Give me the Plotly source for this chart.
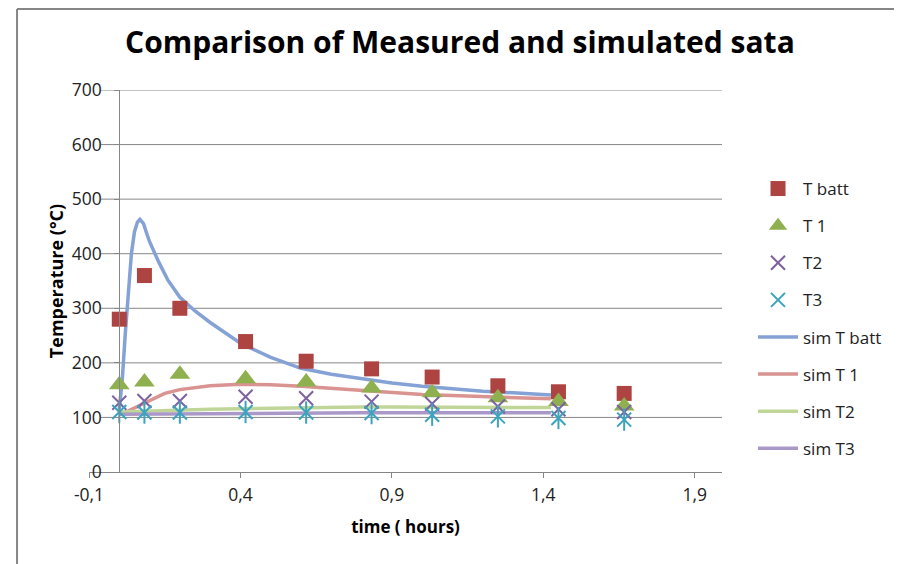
import plotly.graph_objects as go

# measured data (hours, degC)
t_meas = [0, 0.083, 0.2, 0.417, 0.617, 0.833, 1.033, 1.25, 1.45, 1.667]
T_batt = [280, 360, 300, 239, 203, 189, 174, 158, 147, 144]
T_1 = [160, 165, 179, 171, 165, 154, 145, 136, 129, 121]
T_2 = [127, 130, 130, 138, 135, 129, 125, 120, 115, 110]
T_3 = [110, 109, 109, 110, 109, 108, 105, 102, 99, 96]

# simulated curves
t_sim_batt = [0, 0.01, 0.02, 0.03, 0.04, 0.05, 0.06, 0.068, 0.08, 0.09, 0.1, 0.13, 0.16,
              0.2, 0.25, 0.3, 0.4, 0.5, 0.6, 0.7, 0.8, 0.9, 1.0, 1.1, 1.2, 1.3, 1.425]
sim_T_batt = [115, 170, 255, 335, 400, 440, 458, 463, 455, 438, 422, 385, 352,
              320, 295, 274, 236, 210, 190, 179, 171, 163, 157, 152, 148, 145, 141]

t_sim_1 = [0.01, 0.03, 0.06, 0.09, 0.12, 0.15, 0.2, 0.25, 0.3, 0.4, 0.5, 0.6, 0.7,
           0.8, 0.9, 1.0, 1.1, 1.2, 1.3, 1.425]
sim_T_1 = [108, 112, 120, 128, 136, 144, 151, 155, 158, 161, 160, 157, 153,
           149, 146, 142, 140, 138, 136, 134]

t_sim = [0, 0.1, 0.2, 0.3, 0.4, 0.5, 0.6, 0.7, 0.8, 0.9, 1.0, 1.1, 1.2, 1.3, 1.425]
sim_T_2 = [110, 112, 113, 115, 116, 117, 118, 119, 119, 119, 119, 119, 119, 118, 118]
sim_T_3 = [106, 106.5, 107, 107, 107.5, 108, 108, 108, 108.5, 108.5, 108.5, 108.5, 108.5, 108.5, 108.5]

y_ticks = [0, 100, 200, 300, 400, 500, 600, 700]
x_ticks = [-0.1, 0.4, 0.9, 1.4, 1.9]
x_ticklabels = ["-0,1", "0,4", "0,9", "1,4", "1,9"]

FONT = "Open Sans"
GRID = "#868686"

fig = go.Figure()

# lines first so markers sit on top
sims = [
    (t_sim_batt, sim_T_batt, "sim T batt", "#84A2D6", 5),
    (t_sim_1, sim_T_1, "sim T 1", "#D99391", 6),
    (t_sim, sim_T_2, "sim T2", "#C0D698", 7),
    (t_sim, sim_T_3, "sim T3", "#AA99C8", 8),
]
for x, y, name, col, rank in sims:
    fig.add_trace(go.Scatter(x=x, y=y, mode="lines", name=name,
                             line=dict(color=col, width=3.5),
                             legendrank=rank, legendgroup=name))

fig.add_trace(go.Scatter(x=t_meas, y=T_batt, mode="markers", name="T batt",
                         marker=dict(symbol="square", size=15, color="#AE4441"),
                         legendrank=1, legendgroup="T batt"))
fig.add_trace(go.Scatter(x=t_meas, y=T_1, mode="markers", name="T 1",
                         marker=dict(symbol="triangle-up", size=18, color="#8FB04E"),
                         legendrank=2, legendgroup="T 1"))
fig.add_trace(go.Scatter(x=t_meas, y=T_2, mode="markers", name="T2",
                         marker=dict(symbol="x-thin-open", size=14, color="#7E61A1",
                                     line=dict(width=2, color="#7E61A1")),
                         legendrank=3, legendgroup="T2"))
fig.add_trace(go.Scatter(x=t_meas, y=T_3, mode="markers", name="T3",
                         marker=dict(symbol="x-thin-open", size=14, color="#3BA3BD",
                                     line=dict(width=2, color="#3BA3BD")),
                         legendrank=4, legendgroup="T3"))
# vertical stroke of the star marker
fig.add_trace(go.Scatter(x=t_meas, y=T_3, mode="markers", showlegend=False,
                         marker=dict(symbol="line-ns-open", size=16, color="#3BA3BD",
                                     line=dict(width=2, color="#3BA3BD")),
                         legendgroup="T3", hoverinfo="skip"))

# horizontal gridlines (stop short of the tick labels, like excel)
for v in y_ticks[1:]:
    fig.add_shape(type="line", xref="x", yref="y", x0=-0.06, x1=1.99, y0=v, y1=v,
                  line=dict(color=GRID, width=1), layer="below")

# chart border (top and left edges visible)
fig.add_shape(type="line", xref="paper", yref="paper", x0=-0.1137, x1=-0.1137,
              y0=-0.5, y1=1.212, line=dict(color=GRID, width=2))
fig.add_shape(type="line", xref="paper", yref="paper", x0=-0.1137, x1=1.5,
              y0=1.212, y1=1.212, line=dict(color=GRID, width=2))

fig.update_layout(
    width=902, height=564,
    margin=dict(l=81, r=188, t=82, b=100),
    paper_bgcolor="white", plot_bgcolor="white",
    font=dict(family=FONT, size=17, color="#222222"),
    title=dict(text="<b>Comparison of Measured and simulated sata</b>",
               x=0.501, xanchor="center", y=0.938, yanchor="middle",
               font=dict(family=FONT, size=30, color="black")),
    xaxis=dict(range=[-0.1, 1.99], tickvals=x_ticks, ticktext=x_ticklabels,
               showline=True, linecolor=GRID, ticks="outside", ticklen=5,
               tickcolor=GRID, showgrid=False, zeroline=False, ticklabelstandoff=2,
               tickfont=dict(size=17.5),
               title=dict(text="<b>time ( hours)</b>", font=dict(size=17, color="black"),
                          standoff=16)),
    yaxis=dict(range=[0, 700], tickvals=y_ticks, anchor="free", position=0.1 / 2.09,
               showline=True, linecolor=GRID, ticks="outside", ticklen=5,
               tickcolor=GRID, showgrid=False, zeroline=False, ticklabelstandoff=9,
               tickfont=dict(size=17.5),
               title=dict(text="<b>Temperature (°C)</b>", font=dict(size=18, color="black"),
                          standoff=2)),
    legend=dict(x=1.049, xanchor="left", y=0.788, yanchor="top",
                font=dict(size=17), tracegroupgap=12, itemwidth=40,
                bgcolor="rgba(0,0,0,0)"),
    showlegend=True,
)

fig.write_html("out.html")
